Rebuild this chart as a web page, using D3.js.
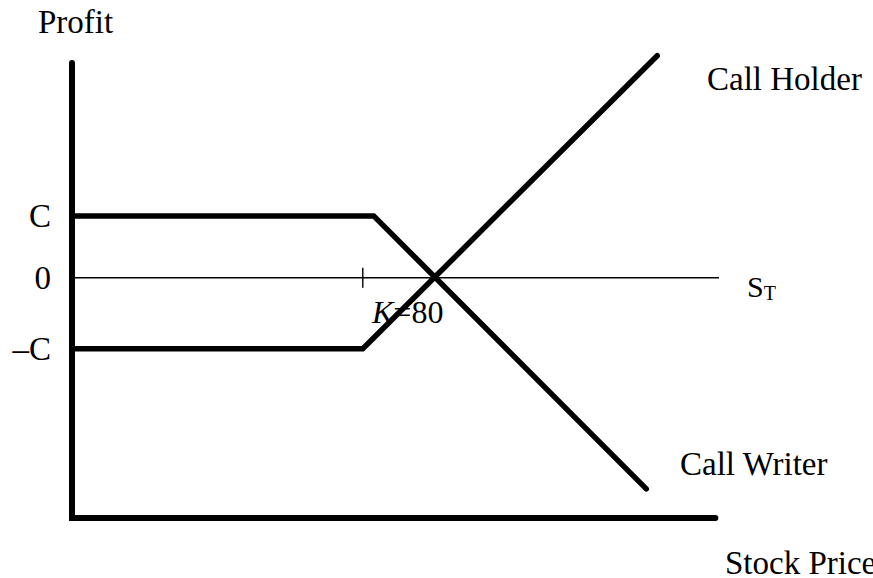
<!DOCTYPE html>
<html>
<head>
<meta charset="utf-8">
<script src="https://cdn.jsdelivr.net/npm/d3@7"></script>
<style>
    body { margin: 0; background: #fff; }
    text { font-family: "Liberation Serif", "Times New Roman", serif; fill: #000; }
</style>
</head>
<body>
<div id="chart"></div>
<script>
// payoff diagram values (price, profit)
let strike = 80;
let holderPoints = [[0, -19.5], [80, -19.5], [161, 61]];
let writerPoints = [[0, 17], [83, 17], [158, -58]];
let profitTicks = [
    {value: 17, label: "C"},
    {value: 0, label: "0"},
    {value: -19.5, label: "\u2013C"}
];
let priceMax = 178;
let profitMin = -66;
let profitMax = 59;

let width = 873, height = 578;

let svg = d3.select("#chart").append("svg")
    .attr("width", width)
    .attr("height", height);

let x = d3.scaleLinear()
    .domain([0, priceMax])
    .range([72, 719]);

let y = d3.scaleLinear()
    .domain([profitMin, profitMax])
    .range([518, 63]);

let line = d3.line()
    .x(d => x(d[0]))
    .y(d => y(d[1]));

// zero line
svg.append("line")
    .attr("x1", x(0)).attr("x2", x(priceMax))
    .attr("y1", y(0)).attr("y2", y(0))
    .attr("stroke", "#000")
    .attr("stroke-width", 1.4);

// strike tick
svg.append("line")
    .attr("x1", x(strike)).attr("x2", x(strike))
    .attr("y1", y(0) - 10).attr("y2", y(0) + 10)
    .attr("stroke", "#000")
    .attr("stroke-width", 1.4);

// axes
svg.append("path")
    .attr("d", line([[0, profitMax], [0, profitMin], [priceMax - 1, profitMin]]))
    .attr("fill", "none")
    .attr("stroke", "#000")
    .attr("stroke-width", 6)
    .attr("stroke-linecap", "round");

// payoff lines
[holderPoints, writerPoints].forEach(pts => {
    svg.append("path")
        .attr("d", line(pts))
        .attr("fill", "none")
        .attr("stroke", "#000")
        .attr("stroke-width", 5.5)
        .attr("stroke-linecap", "round")
        .attr("stroke-linejoin", "miter");
});

// profit labels
svg.selectAll(".plabel")
    .data(profitTicks)
    .enter().append("text")
    .attr("class", "plabel")
    .attr("x", 51)
    .attr("y", d => y(d.value) + 11)
    .attr("text-anchor", "end")
    .style("font-size", "33px")
    .text(d => d.label);

svg.append("text")
    .attr("x", 38).attr("y", 33)
    .style("font-size", "33px")
    .text("Profit");

svg.append("text")
    .attr("x", 707).attr("y", 90)
    .style("font-size", "33px")
    .text("Call Holder");

svg.append("text")
    .attr("x", 680).attr("y", 475)
    .style("font-size", "33px")
    .text("Call Writer");

svg.append("text")
    .attr("x", 725).attr("y", 574)
    .style("font-size", "33px")
    .text("Stock Price");

let st = svg.append("text")
    .attr("x", 747).attr("y", 297)
    .style("font-size", "30px");
st.append("tspan").text("S");
st.append("tspan").attr("dy", 3).style("font-size", "20px").text("T");

let k = svg.append("text")
    .attr("x", 372).attr("y", 323)
    .style("font-size", "32px");
k.append("tspan").style("font-style", "italic").text("K");
k.append("tspan").text("=" + strike);
</script>
</body>
</html>
